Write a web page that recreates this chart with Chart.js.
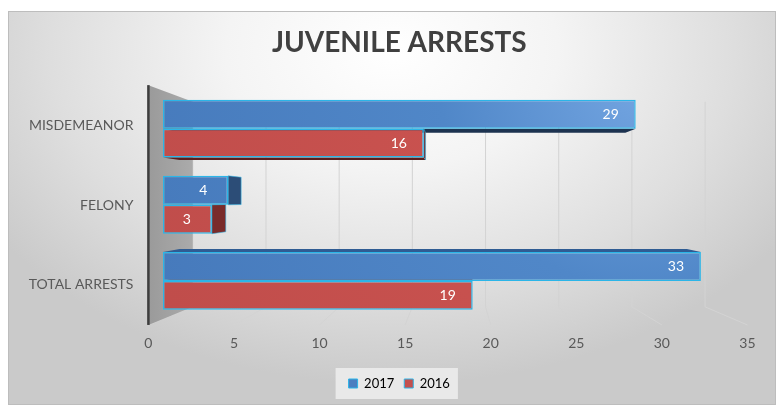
<!DOCTYPE html>
<html>
<head>
<meta charset="utf-8">
<title>Juvenile Arrests</title>
<script src="https://cdn.jsdelivr.net/npm/chart.js@4.4.1/dist/chart.umd.min.js"></script>
<style>
  html, body { margin: 0; padding: 0; background: #fff; }
  #wrap { position: relative; width: 782px; height: 405px; }
  #frame {
    position: absolute; left: 8px; top: 11px; width: 766px; height: 392px;
    border: 1px solid #bdbdbd;
    background: radial-gradient(ellipse 62% 85% at 50% 10%, #ffffff 0%, #f4f4f4 35%, #dedede 72%, #cacaca 100%);
  }
  canvas { position: absolute; left: 0; top: 0; }
</style>
</head>
<body>
<div id="wrap">
  <div id="frame"></div>
  <canvas id="arrestsChart" width="782" height="405"></canvas>
</div>
<script>
const categories = ['MISDEMEANOR', 'FELONY', 'TOTAL ARRESTS'];
const arrests2017 = [29, 4, 33];
const arrests2016 = [16, 3, 19];
const seriesNames = ['2017', '2016'];
const axisMax = 35;
const axisStep = 5;

// fake 3d: everything is scaled toward a vanishing point
const VP = { x: 455, y: 200 };
const K_WALL = 0.898;   // back wall with the gridlines
const K_BAR = 0.943;    // back faces of the bars
const K_FRONT = 1.05;   // front edge of floor / side wall
function project(x, y, k) {
  return { x: VP.x + (x - VP.x) * k, y: VP.y + (y - VP.y) * k };
}

const FONT = 'Lato, "Open Sans", sans-serif';
const EDGE = '#2bb5e8';

function barFill(stops) {
  return (c) => {
    const chart = c.chart;
    const g = chart.ctx.createRadialGradient(650, 80, 0, 650, 80, 600);
    g.addColorStop(0, stops[0]);
    g.addColorStop(0.35, stops[1]);
    g.addColorStop(1, stops[2]);
    return g;
  };
}

const faceColors = [
  { side: '#2c4d77', top: '#2f5c93', bottom: '#1d3350' },
  { side: '#7a2b2a', top: '#9c3b39', bottom: '#5a1f1e' }
];

function poly(ctx, pts, fill, stroke) {
  ctx.beginPath();
  ctx.moveTo(pts[0].x, pts[0].y);
  for (let i = 1; i < pts.length; i++) ctx.lineTo(pts[i].x, pts[i].y);
  ctx.closePath();
  ctx.fillStyle = fill;
  ctx.fill();
  if (stroke) {
    ctx.strokeStyle = stroke;
    ctx.lineWidth = 1;
    ctx.stroke();
  }
}

const scene3d = {
  id: 'scene3d',
  beforeDraw(chart) {
    // light box behind the legend
    const lg = chart.legend;
    if (!lg || !lg.legendHitBoxes.length) return;
    const hb = lg.legendHitBoxes;
    const last = hb[hb.length - 1];
    const l = hb[0].left - 13, r = last.left + last.width + 8;
    const t = hb[0].top - 9, b = hb[0].top + hb[0].height + 9;
    const ctx = chart.ctx;
    ctx.save();
    ctx.fillStyle = 'rgba(240,240,240,0.8)';
    ctx.fillRect(l, t, r - l, b - t);
    ctx.restore();
  },
  beforeDatasetsDraw(chart) {
    const ctx = chart.ctx;
    const area = chart.chartArea;
    const xs = chart.scales.x;
    ctx.save();

    // gridlines on the back wall and across the floor
    ctx.strokeStyle = '#d3d3d3';
    ctx.lineWidth = 1;
    xs.ticks.forEach(t => {
      const px = xs.getPixelForValue(t.value);
      const top = project(px, area.top, K_WALL);
      const bot = project(px, area.bottom, K_WALL);
      const front = project(px, area.bottom, K_FRONT);
      ctx.beginPath();
      ctx.moveTo(top.x, top.y);
      ctx.lineTo(bot.x, bot.y);
      ctx.lineTo(front.x, front.y);
      ctx.stroke();
    });

    // side wall
    const wf = project(area.left, area.top, K_FRONT);
    const wb = project(area.left, area.top, K_WALL);
    const bb = project(area.left, area.bottom, K_WALL);
    const bf = project(area.left, area.bottom, K_FRONT);
    const wg = ctx.createLinearGradient(wf.x, 0, wb.x, 0);
    wg.addColorStop(0, '#9a9a9a');
    wg.addColorStop(1, '#ababab');
    poly(ctx, [wf, wb, bb, bf], wg);
    ctx.strokeStyle = '#3d3d3d';
    ctx.lineWidth = 2.5;
    ctx.beginPath();
    ctx.moveTo(wf.x, wf.y);
    ctx.lineTo(bf.x, bf.y);
    ctx.stroke();

    // hidden faces of the bars: top, bottom, right end
    chart.data.datasets.forEach((ds, di) => {
      const meta = chart.getDatasetMeta(di);
      const col = faceColors[di];
      meta.data.forEach(bar => {
        const p = bar.getProps(['x', 'y', 'base', 'height'], true);
        const l = Math.min(p.base, p.x), r = Math.max(p.base, p.x);
        const t = p.y - p.height / 2, b = p.y + p.height / 2;
        const fTL = { x: l, y: t }, fTR = { x: r, y: t }, fBL = { x: l, y: b }, fBR = { x: r, y: b };
        const bTL = project(l, t, K_BAR), bTR = project(r, t, K_BAR);
        const bBL = project(l, b, K_BAR), bBR = project(r, b, K_BAR);
        if (b < VP.y) poly(ctx, [fBL, fBR, bBR, bBL], col.bottom);
        if (t > VP.y) poly(ctx, [fTL, fTR, bTR, bTL], col.top);
        if (r < VP.x) poly(ctx, [fTR, fBR, bBR, bTR], col.side, 'rgba(43,181,232,0.55)');
      });
    });
    ctx.restore();
  },
  afterDatasetsDraw(chart) {
    const ctx = chart.ctx;
    ctx.save();
    ctx.font = '14px ' + FONT;
    ctx.fillStyle = '#ffffff';
    ctx.textAlign = 'center';
    ctx.textBaseline = 'middle';
    chart.data.datasets.forEach((ds, di) => {
      chart.getDatasetMeta(di).data.forEach((bar, i) => {
        const p = bar.getProps(['x', 'y'], true);
        ctx.fillText(String(ds.data[i]), p.x - 25, p.y);
      });
    });
    ctx.restore();
  },
  afterDraw(chart) {
    const ctx = chart.ctx;
    const area = chart.chartArea;
    const xs = chart.scales.x, ys = chart.scales.y;
    ctx.save();
    ctx.fillStyle = '#595959';
    ctx.textBaseline = 'middle';
    ctx.font = '14px ' + FONT;

    // value axis labels along the front of the floor
    ctx.textAlign = 'center';
    xs.ticks.forEach(t => {
      const pt = project(xs.getPixelForValue(t.value), area.bottom, K_FRONT);
      ctx.fillText(String(t.value), pt.x, pt.y + 19);
    });

    // category labels beside the front edge of the wall
    ctx.textAlign = 'right';
    const wallX = project(area.left, area.top, K_FRONT).x;
    categories.forEach((c, i) => {
      const pt = project(area.left, ys.getPixelForValue(i), K_FRONT);
      ctx.fillText(c, wallX - 15, pt.y);
    });
    ctx.restore();
  }
};

new Chart(document.getElementById('arrestsChart'), {
  type: 'bar',
  data: {
    labels: categories,
    datasets: [
      {
        label: seriesNames[0],
        data: arrests2017,
        backgroundColor: barFill(['#74a6e2', '#5087c8', '#4477b9']),
        borderColor: EDGE,
        borderWidth: 1.5,
        borderSkipped: false
      },
      {
        label: seriesNames[1],
        data: arrests2016,
        backgroundColor: barFill(['#d86a67', '#c9524f', '#be4c4a']),
        borderColor: EDGE,
        borderWidth: 1.5,
        borderSkipped: false
      }
    ]
  },
  options: {
    indexAxis: 'y',
    responsive: false,
    animation: false,
    categoryPercentage: 0.76,
    barPercentage: 1,
    layout: { padding: { top: 0, left: 65, right: 48.5, bottom: 5 } },
    scales: {
      x: {
        min: 0, max: axisMax,
        ticks: { stepSize: axisStep, display: false },
        grid: { display: false },
        border: { display: false },
        afterFit: s => { s.height = 48; }
      },
      y: {
        ticks: { display: false },
        grid: { display: false },
        border: { display: false },
        afterFit: s => { s.width = 98; }
      }
    },
    plugins: {
      title: {
        display: true,
        text: 'JUVENILE ARRESTS',
        color: '#404040',
        font: { family: FONT, size: 28, weight: 'bold', lineHeight: 1.2 },
        padding: { top: 26, bottom: 31 }
      },
      legend: {
        position: 'bottom',
        labels: {
          boxWidth: 9,
          boxHeight: 9,
          padding: 10,
          color: '#404040',
          font: { family: FONT, size: 13 },
          generateLabels(chart) {
            return chart.data.datasets.map((ds, i) => ({
              text: ds.label,
              fillStyle: i === 0 ? '#4a7ec0' : '#c4504e',
              strokeStyle: EDGE,
              lineWidth: 1,
              datasetIndex: i,
              hidden: false
            }));
          }
        }
      },
      tooltip: { enabled: false }
    }
  },
  plugins: [scene3d]
});
</script>
</body>
</html>
